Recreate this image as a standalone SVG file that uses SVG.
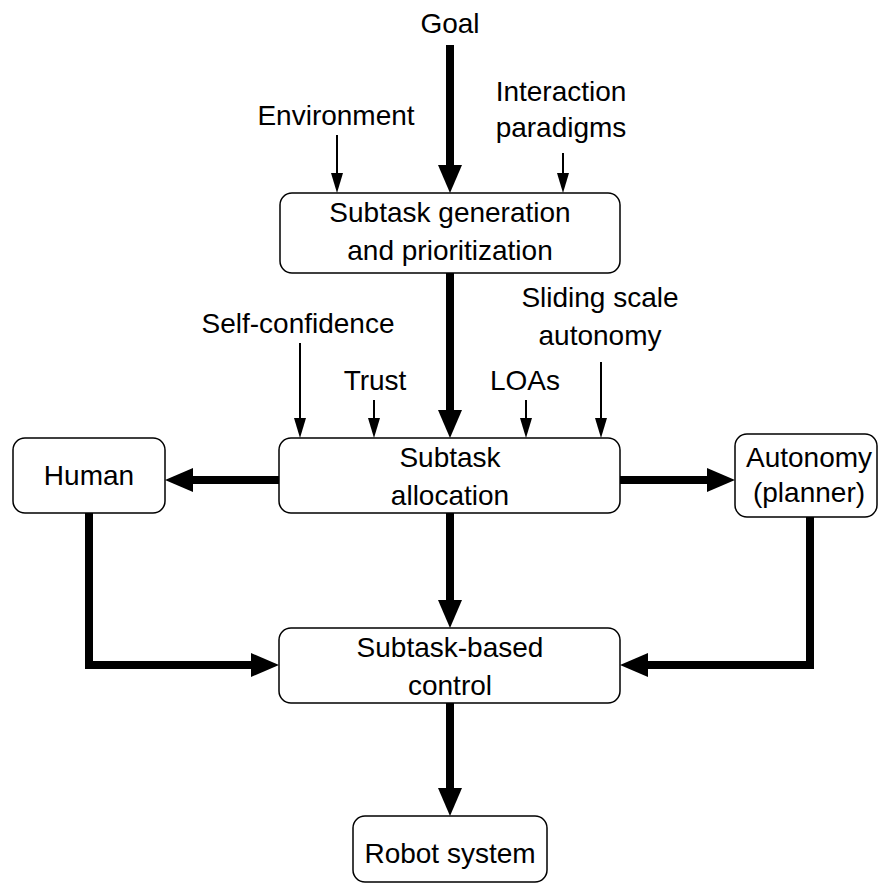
<svg xmlns="http://www.w3.org/2000/svg" width="879" height="888" viewBox="0 0 879 888">
<style>
text{font-family:"Liberation Sans",Arial,sans-serif;font-size:28px;fill:#000;text-anchor:middle}
.box{fill:#fff;stroke:#000;stroke-width:1.5}
.thick{fill:none;stroke:#000;stroke-width:8;stroke-linejoin:miter;marker-end:url(#hk)}
.thin{fill:none;stroke:#000;stroke-width:2;marker-end:url(#hn)}
</style>
<defs>
<marker id="hk" markerUnits="userSpaceOnUse" viewBox="0 0 28 24" markerWidth="28" markerHeight="24" refX="0" refY="12" orient="auto"><path d="M0,0 L28,12 L0,24 z" fill="#000"/></marker>
<marker id="hn" markerUnits="userSpaceOnUse" viewBox="0 0 20 12" markerWidth="20" markerHeight="12" refX="0" refY="6" orient="auto"><path d="M0,0 L20,6 L0,12 z" fill="#000"/></marker>
</defs>
<g id="connectors">
<path class="thick" d="M450,45 V165"/>
<path class="thick" d="M450,273 V410"/>
<path class="thick" d="M279,480 H193"/>
<path class="thick" d="M620,480 H707"/>
<path class="thick" d="M450,513 V600"/>
<path class="thick" d="M89,513 V665 H251"/>
<path class="thick" d="M810,517 V665 H648"/>
<path class="thick" d="M450,703 V788"/>
<path class="thin" d="M337,135 V173"/>
<path class="thin" d="M563,153 V173"/>
<path class="thin" d="M300,343 V418"/>
<path class="thin" d="M374,400 V418"/>
<path class="thin" d="M526,400 V418"/>
<path class="thin" d="M601,362 V418"/>
</g>
<g id="inputs">
<text x="450" y="33">Goal</text>
<text x="336" y="125">Environment</text>
<text x="561" y="101">Interaction</text>
<text x="561" y="137">paradigms</text>
<text x="298" y="333">Self-confidence</text>
<text x="375" y="390">Trust</text>
<text x="525" y="390">LOAs</text>
<text x="600" y="307">Sliding scale</text>
<text x="600" y="345">autonomy</text>
</g>
<g id="generation">
<rect class="box" x="280" y="193" width="340" height="80" rx="12"/>
<text x="450" y="222">Subtask generation</text>
<text x="450" y="260">and prioritization</text>
</g>
<g id="allocation">
<rect class="box" x="279" y="438" width="341" height="75" rx="12"/>
<text x="450" y="467">Subtask</text>
<text x="450" y="505">allocation</text>
</g>
<g id="human">
<rect class="box" x="13" y="438" width="152" height="75" rx="12"/>
<text x="89" y="485">Human</text>
</g>
<g id="autonomy">
<rect class="box" x="735" y="434" width="142" height="83" rx="12"/>
<text x="809" y="467">Autonomy</text>
<text x="809" y="502">(planner)</text>
</g>
<g id="control">
<rect class="box" x="279" y="628" width="341" height="75" rx="12"/>
<text x="450" y="657">Subtask-based</text>
<text x="450" y="695">control</text>
</g>
<g id="robot">
<rect class="box" x="353" y="816" width="194" height="66" rx="12"/>
<text x="450" y="863">Robot system</text>
</g>
</svg>
